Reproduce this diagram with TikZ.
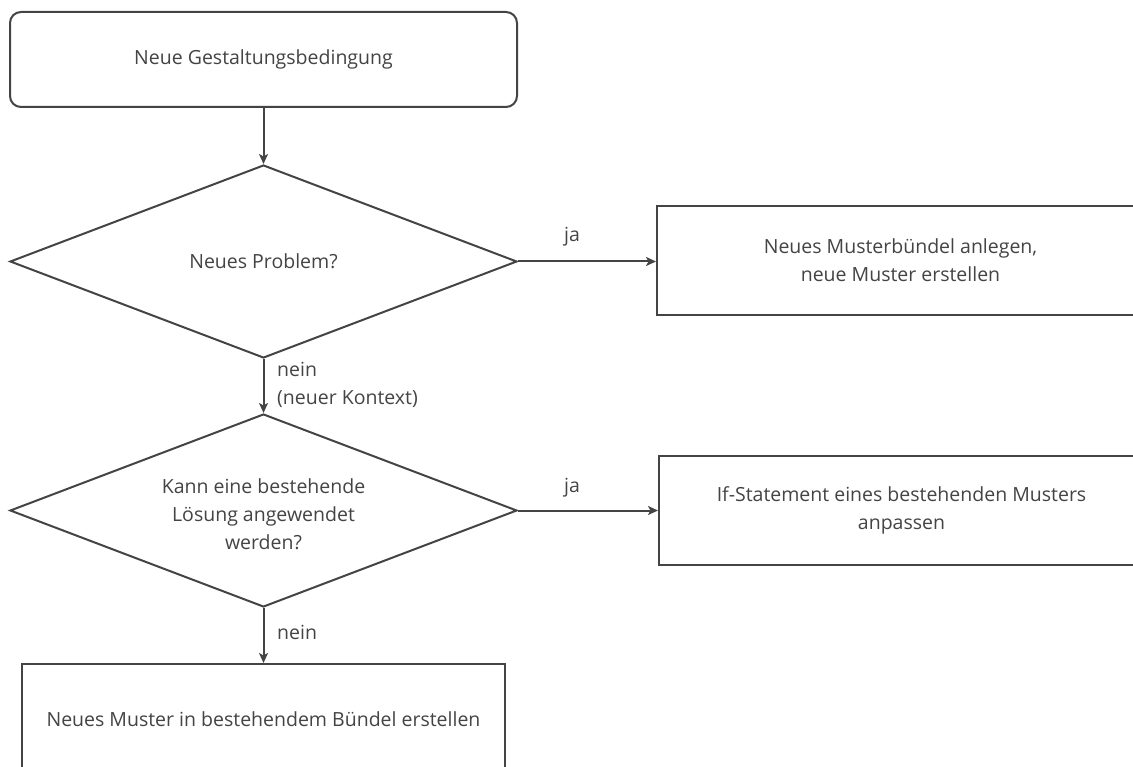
\documentclass[tikz,border=0pt]{standalone}
\usepackage{fontspec}
\setmainfont{Open Sans}
\usetikzlibrary{shapes.geometric,arrows.meta}
\definecolor{linegray}{HTML}{444444}
\definecolor{textgray}{HTML}{444444}
\begin{document}
\begin{tikzpicture}[x=1pt,y=-1pt,
  every node/.style={text=textgray, font=\fontsize{19.5}{28}\selectfont},
  outlined/.style={draw=linegray, line width=2pt, fill=white},
  startbox/.style={outlined, rectangle, rounded corners=11pt,
    minimum width=507pt, minimum height=95pt, inner sep=0pt},
  decision/.style={outlined, diamond, minimum width=507pt,
    minimum height=193pt, inner sep=0pt},
  actionbox/.style={outlined, rectangle, inner sep=0pt, align=center},
  plaintext/.style={inner sep=0pt, align=center},
  edgetext/.style={inner sep=0pt, align=left},
  flow/.style={draw=linegray, line width=2pt,
    -{Stealth[length=10pt, width=9pt, inset=2.5pt]}},
]
\useasboundingbox (0,0) rectangle (1133,767);
\clip (0,0) rectangle (1133,767);

% process steps and decisions (diamond texts set on top of empty shapes)
\node[startbox] (start) at (263.5,59.5) {Neue Gestaltungsbedingung};
\node[decision] (problem) at (263.5,261.5) {};
\node[plaintext] (problemtext) at (problem.center) {Neues Problem?};
\node[decision] (solution) at (263.5,510.5) {};
\node[plaintext] (solutiontext) at (263.5,514)
  {Kann eine bestehende\\Lösung angewendet\\werden?};
\node[actionbox, minimum width=487pt, minimum height=109pt] (bundle)
  at (900.5,260.5) {Neues Musterbündel anlegen,\\neue Muster erstellen};
\node[actionbox, minimum width=485pt, minimum height=109pt] (adapt)
  at (901.5,510.5) {If-Statement eines bestehenden Musters\\anpassen};
\node[actionbox, minimum width=483pt, minimum height=110pt,
  anchor=north] (newpattern) at (263.5,663) {};
\node[plaintext] (newpatterntext) at (263.5,719)
  {Neues Muster in bestehendem Bündel erstellen};

% connectors
\draw[flow] (start) -- (problem);
\draw[flow] (problem.east) -- (problem.east -| bundle.west);
\draw[flow] (problem) -- (solution);
\draw[flow] (solution.east) -- (solution.east -| adapt.west);
\draw[flow] (solution) -- (newpattern);

% connector labels
\node[edgetext] (ja1) at (572,237) {ja};
\node[edgetext] (ja2) at (572,488) {ja};
\node[edgetext, anchor=north west] (nein1) at (277,362)
  {nein\\(neuer Kontext)};
\node[edgetext, anchor=west] (nein2) at (277,632) {nein};
\end{tikzpicture}
\end{document}
